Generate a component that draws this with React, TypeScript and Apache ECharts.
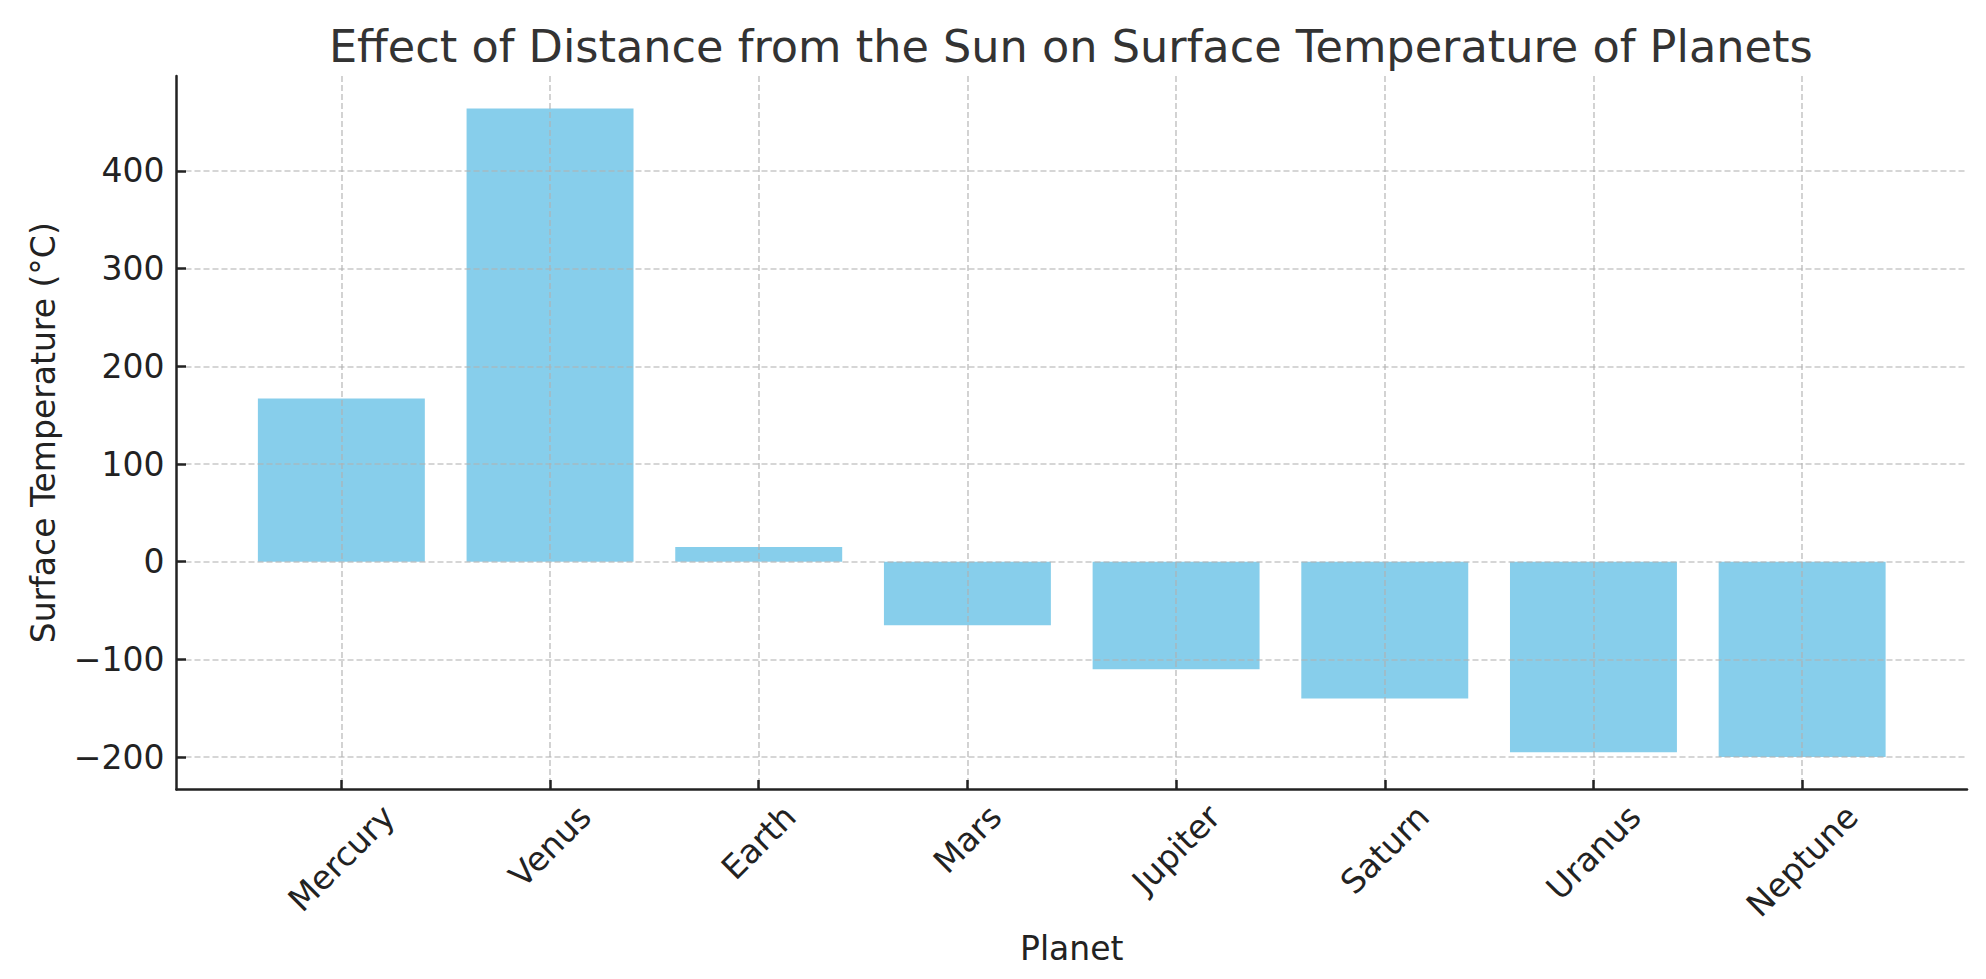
import React, { useEffect, useRef } from 'react';
import * as echarts from 'echarts';

const planets = ['Mercury', 'Venus', 'Earth', 'Mars', 'Jupiter', 'Saturn', 'Uranus', 'Neptune'];
const temperatures = [167, 464, 15, -65, -110, -140, -195, -200];
const yTicks = [-200, -100, 0, 100, 200, 300, 400];
const chartTitle = 'Effect of Distance from the Sun on Surface Temperature of Planets';
const xName = 'Planet';
const yName = 'Surface Temperature (°C)';

const FONT = '"DejaVu Sans", "Noto Sans", sans-serif';

export default function App() {
  const ref = useRef<HTMLDivElement>(null);
  useEffect(() => {
    const el = ref.current!;
    const chart = echarts.init(el, null, { renderer: 'svg' });
    const W = 1986;
    const left = 176.5, right = 19, top = 76, bottom = 189.5;
    const n = planets.length;
    const barFrac = 0.8;
    const xPad = (n - 1 + barFrac) * 0.05;
    const xMin = -barFrac / 2 - xPad;
    const xMax = n - 1 + barFrac / 2 + xPad;
    const dMin = Math.min(0, ...temperatures);
    const dMax = Math.max(0, ...temperatures);
    const yPad = (dMax - dMin) * 0.05;
    const yMin = dMin - yPad;
    const yMax = dMax + yPad;
    const unit = (W - left - right) / (xMax - xMin);

    const tickFont = 33;
    const canvas = document.createElement('canvas');
    const ctx = canvas.getContext('2d')!;
    ctx.font = `${tickFont}px "DejaVu Sans"`;
    const labelMargin = 10;
    const rich: Record<string, any> = {};
    planets.forEach((p, i) => {
      const w = ctx.measureText(p).width;
      const delta = 9.7 + (w + tickFont) / (2 * Math.SQRT2) - labelMargin;
      const pp = Math.max(0, Math.SQRT2 * delta);
      rich['l' + i] = {
        fontSize: tickFont,
        fontFamily: FONT,
        color: '#222222',
        padding: [pp, pp, 0, 0],
      };
    });

    const axisLineStyle = { color: '#222222', width: 2.5 };
    const gridStyle = { color: 'rgba(176,176,176,0.7)', type: [6, 3], width: 1.6 };
    const xTickValues = planets.map((_, i) => i);

    chart.setOption({
      animation: false,
      backgroundColor: '#ffffff',
      title: {
        text: chartTitle,
        left: left + (W - left - right) / 2 - 6,
        textAlign: 'center',
        top: 19,
        textStyle: { fontFamily: FONT, fontSize: 44.6, fontWeight: 'normal', color: '#333333' },
      },
      grid: { left, right, top, bottom, containLabel: false, outerBoundsMode: 'none' },
      xAxis: {
        type: 'value',
        min: xMin,
        max: xMax,
        z: 3,
        name: xName,
        nameLocation: 'middle',
        nameGap: 142,
        nameMoveOverlap: false,
        nameTextStyle: { fontFamily: FONT, fontSize: 33, color: '#222222' },
        axisLine: { show: true, onZero: false, lineStyle: axisLineStyle },
        axisTick: { show: true, inside: true, length: 9.5, lineStyle: axisLineStyle, customValues: xTickValues },
        axisLabel: {
          show: true,
          customValues: xTickValues,
          rotate: 45,
          align: 'center',
          verticalAlign: 'middle',
          margin: labelMargin,
          fontSize: tickFont,
          fontFamily: FONT,
          color: '#222222',
          formatter: (v: number) => {
            const i = Math.round(v);
            return `{l${i}|${planets[i]}}`;
          },
          rich,
        },
        splitLine: { show: true, lineStyle: gridStyle },
      },
      yAxis: {
        type: 'value',
        min: yMin,
        max: yMax,
        z: 3,
        name: yName,
        nameLocation: 'middle',
        nameRotate: 90,
        nameGap: 116.5,
        nameMoveOverlap: false,
        nameTextStyle: { fontFamily: FONT, fontSize: 33, color: '#222222' },
        axisLine: { show: true, onZero: false, lineStyle: axisLineStyle },
        axisTick: { show: true, inside: true, length: 9.5, lineStyle: axisLineStyle, customValues: yTicks },
        axisLabel: {
          show: true,
          customValues: yTicks,
          margin: 12,
          fontSize: tickFont,
          fontFamily: FONT,
          color: '#222222',
          formatter: (v: number) => String(v).replace('-', '\u2212'),
        },
        splitLine: { show: true, lineStyle: gridStyle },
      },
      series: [
        {
          type: 'bar',
          data: planets.map((_, i) => [i, temperatures[i]]),
          barWidth: unit * barFrac,
          itemStyle: { color: '#87CEEB' },
          z: 2,
        },
      ],
    });
    return () => chart.dispose();
  }, []);
  return (
    <div
      ref={ref}
      style={{ position: 'fixed', left: 0, top: 0, width: 1986, height: 979, background: '#fff' }}
    />
  );
}
